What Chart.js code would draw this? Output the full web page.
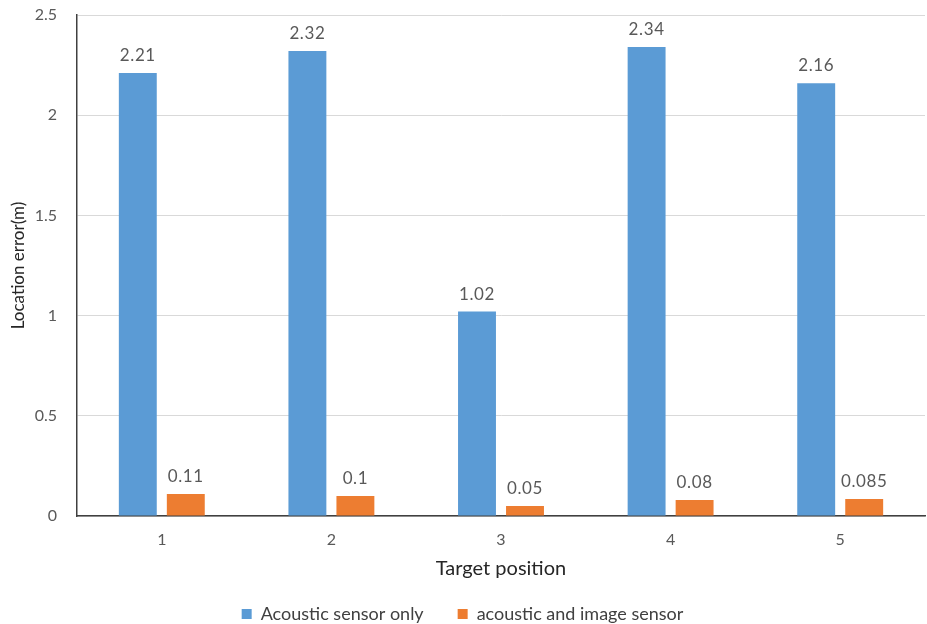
<!DOCTYPE html>
<html>
<head>
<meta charset="utf-8">
<script src="https://cdn.jsdelivr.net/npm/chart.js@4/dist/chart.umd.min.js"></script>
<style>
  html, body { margin: 0; padding: 0; background: #ffffff; }
  #wrap { width: 927px; height: 624px; }
</style>
</head>
<body>
<div id="wrap"><canvas id="chart" width="927" height="624"></canvas></div>
<script>
// Target positions along the x axis
const categories = ['1', '2', '3', '4', '5'];
// Location error (m) per target position
const acousticOnly = [2.21, 2.32, 1.02, 2.34, 2.16];
const acousticImage = [0.11, 0.1, 0.05, 0.08, 0.085];
// Series names shown in the legend
const seriesNames = ['Acoustic sensor only', 'acoustic and image sensor'];
// Y axis range
const yMin = 0, yMax = 2.5, yStep = 0.5;

const FONT = 'Lato, "Open Sans", sans-serif';

// Writes each bar's value just above its top
const valueLabels = {
  id: 'valueLabels',
  afterDatasetsDraw(chart) {
    const ctx = chart.ctx;
    ctx.save();
    ctx.font = '17px ' + FONT;
    ctx.fillStyle = '#595959';
    ctx.textAlign = 'center';
    ctx.textBaseline = 'alphabetic';
    if ('letterSpacing' in ctx) ctx.letterSpacing = '0.6px';
    chart.data.datasets.forEach((ds, di) => {
      const meta = chart.getDatasetMeta(di);
      meta.data.forEach((bar, i) => {
        ctx.fillText(String(ds.data[i]), bar.x, bar.y - 12);
      });
    });
    ctx.restore();
  }
};

new Chart(document.getElementById('chart'), {
  type: 'bar',
  data: {
    labels: categories,
    datasets: [
      { label: seriesNames[0], data: acousticOnly, backgroundColor: '#5b9bd5' },
      { label: seriesNames[1], data: acousticImage, backgroundColor: '#ed7d31' }
    ]
  },
  options: {
    responsive: false,
    animation: false,
    layout: { padding: { top: 15, right: 2, left: 0, bottom: 0 } },
    datasets: { bar: { categoryPercentage: 0.566, barPercentage: 0.79 } },
    plugins: {
      tooltip: { enabled: false },
      legend: {
        position: 'bottom',
        maxHeight: 53,
        labels: {
          boxWidth: 10,
          boxHeight: 10,
          padding: 34,
          color: '#404040',
          font: { family: FONT, size: 18 }
        }
      }
    },
    scales: {
      x: {
        grid: { display: false, drawTicks: false },
        border: { display: true, color: '#404040', width: 1.5 },
        ticks: { color: '#595959', padding: 14, font: { family: FONT, size: 16 } },
        title: {
          display: true,
          text: 'Target position',
          color: '#262626',
          font: { family: FONT, size: 20 },
          padding: { top: 0, bottom: -10 }
        },
        afterFit(scale) { scale.height = 55; }
      },
      y: {
        min: yMin,
        max: yMax,
        grid: { color: '#d9d9d9', drawTicks: false, lineWidth: 1 },
        border: { display: true, color: '#404040', width: 1.5 },
        ticks: {
          stepSize: yStep,
          padding: 20,
          color: '#595959',
          font: { family: FONT, size: 16 },
          callback: (v) => String(Math.round(v * 10) / 10)
        },
        title: {
          display: true,
          text: 'Location error(m)',
          color: '#262626',
          font: { family: FONT, size: 17 },
          padding: { top: 8, bottom: 0 }
        },
        afterFit(scale) {
          scale.width = 77;
          scale.paddingTop = 10;
          scale.paddingBottom = 10;
        }
      }
    }
  },
  plugins: [valueLabels]
});
</script>
</body>
</html>
